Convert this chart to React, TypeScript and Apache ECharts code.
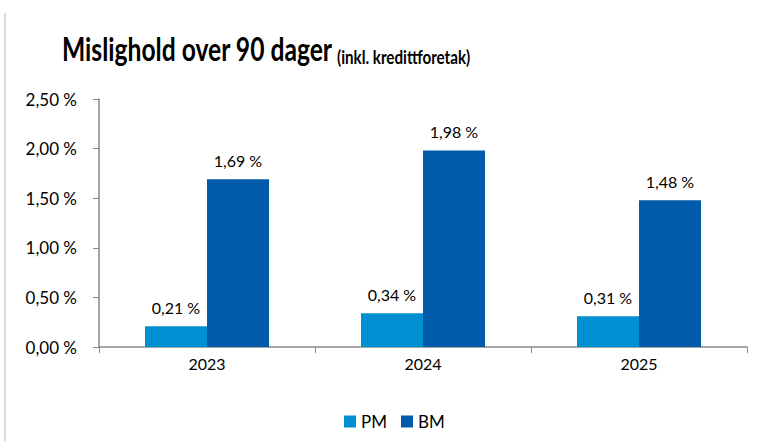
import React, { useEffect, useRef } from "react";
import * as echarts from "echarts";

const categories = ["2023", "2024", "2025"];
const pmValues = [0.21, 0.34, 0.31];
const bmValues = [1.69, 1.98, 1.48];
const seriesNames = ["PM", "BM"];
const titleMain = "Mislighold over 90 dager";
const titleSub = "(inkl. kredittforetak)";

const fmt = (v: number) => v.toFixed(2).replace(".", ",") + " %";
const FONT = "Lato";

export default function App() {
  const ref = useRef<HTMLDivElement>(null);
  useEffect(() => {
    const chart = echarts.init(ref.current!, null, { renderer: "svg" });
    const labelStyle = {
      show: true,
      position: "top",
      distance: 11,
      fontFamily: FONT,
      fontSize: 16,
      color: "#000",
      formatter: (p: any) => fmt(p.value),
    };
    chart.setOption({
      animation: false,
      backgroundColor: "#ffffff",
      graphic: [
        { type: "line", shape: { x1: 5, y1: 13, x2: 5, y2: 441 }, style: { stroke: "#d9d9d9", lineWidth: 2 } },
        {
          type: "text", x: 62, y: 33, scaleX: 0.77,
          style: { text: titleMain, x: 0, y: 0, font: `bold 32px "${FONT}"`, fill: "#000" },
        },
        {
          type: "text", x: 337, y: 47, scaleX: 0.8,
          style: { text: titleSub, x: 0, y: 0, font: `bold 19px "${FONT}"`, fill: "#000" },
        },
      ],
      legend: {
        data: seriesNames,
        top: 408,
        left: 339,
        itemWidth: 12,
        itemHeight: 12,
        itemGap: 14,
        icon: "rect",
        textStyle: { fontFamily: FONT, fontSize: 17, color: "#000" },
      },
      grid: { left: 99, right: 16, top: 99, bottom: 94, containLabel: false },
      xAxis: {
        type: "category",
        data: categories,
        axisLine: { lineStyle: { color: "#888", width: 1.5 } },
        axisTick: { show: true, length: 6, lineStyle: { color: "#888" } },
        axisLabel: { fontFamily: FONT, fontSize: 16, color: "#000", margin: 8 },
      },
      yAxis: {
        type: "value",
        min: 0,
        max: 2.5,
        interval: 0.5,
        splitLine: { show: false },
        axisLine: { show: true, lineStyle: { color: "#888", width: 1.5 } },
        axisTick: { show: true, length: 6, lineStyle: { color: "#888" } },
        axisLabel: { fontFamily: FONT, fontSize: 17, color: "#000", margin: 22, formatter: (v: number) => fmt(v) },
      },
      series: [
        {
          name: "PM",
          type: "bar",
          data: pmValues,
          barWidth: 62,
          barGap: "0%",
          itemStyle: { color: "#0090D2" },
          label: labelStyle,
        },
        {
          name: "BM",
          type: "bar",
          data: bmValues,
          barWidth: 62,
          barGap: "0%",
          itemStyle: { color: "#005BAA" },
          label: labelStyle,
        },
      ],
    });
    return () => chart.dispose();
  }, []);
  return <div ref={ref} style={{ width: 763, height: 441, position: "absolute", left: 0, top: 0 }} />;
}
